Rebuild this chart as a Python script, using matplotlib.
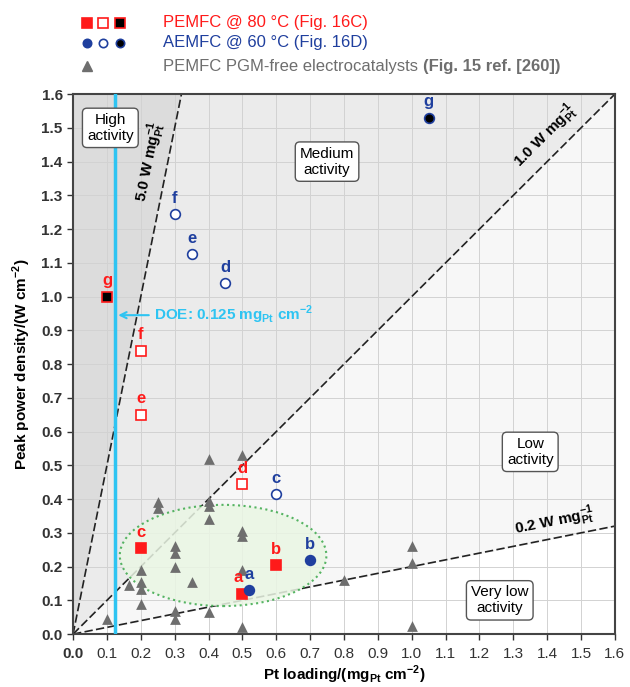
import numpy as np
import matplotlib.pyplot as plt
from matplotlib.patches import Ellipse
from matplotlib.lines import Line2D

plt.rcParams['font.family'] = ['Liberation Sans', 'DejaVu Sans']
plt.rcParams['mathtext.fontset'] = 'custom'
plt.rcParams['mathtext.rm'] = 'Liberation Sans'
plt.rcParams['mathtext.bf'] = 'Liberation Sans:bold'

# PEMFC @ 80 C (Fig. 16C)
pem_lab = ['a', 'b', 'c', 'd', 'e', 'f', 'g']
pem_x = [0.5, 0.6, 0.2, 0.5, 0.2, 0.2, 0.1]
pem_y = [0.12, 0.205, 0.255, 0.445, 0.65, 0.84, 1.0]
pem_kind = ['fill', 'fill', 'fill', 'open', 'open', 'open', 'black']

# AEMFC @ 60 C (Fig. 16D)
aem_lab = ['a', 'b', 'c', 'd', 'e', 'f', 'g']
aem_x = [0.52, 0.7, 0.6, 0.45, 0.35, 0.3, 1.05]
aem_y = [0.13, 0.22, 0.415, 1.04, 1.125, 1.245, 1.53]
aem_kind = ['fill', 'fill', 'open', 'open', 'open', 'open', 'black']

# PGM-free (Fig. 15 ref. [260])
tri_x = [0.1, 0.165, 0.2, 0.2, 0.2, 0.2, 0.25, 0.25, 0.3, 0.3, 0.3, 0.3, 0.3,
         0.35, 0.4, 0.4, 0.4, 0.4, 0.4, 0.5, 0.5, 0.5, 0.5, 0.5, 0.8,
         1.0, 1.0, 1.0]
tri_y = [0.045, 0.145, 0.19, 0.155, 0.135, 0.088, 0.39, 0.375, 0.26, 0.24, 0.2,
         0.068, 0.044, 0.155, 0.52, 0.395, 0.38, 0.34, 0.065, 0.53, 0.305,
         0.29, 0.19, 0.02, 0.16, 0.26, 0.21, 0.025]

slopes = [5.0, 1.0, 0.2]
doe = 0.125

red = '#ff1a1a'
blue = '#1f3f9e'
gray = '#6e6e6e'
cyan = '#2ec4f2'

fig = plt.figure(figsize=(6.3, 6.87), dpi=100)
ax = fig.add_axes([0.116, 0.077, 0.86, 0.786])
ax.set_xlim(0, 1.6)
ax.set_ylim(0, 1.6)

# activity regions
xx = np.linspace(0, 1.6, 400)
ax.fill_between(xx, np.minimum(slopes[0] * xx, 1.6), 1.6, color='#dcdcdc', zorder=0)
ax.fill_between(xx, np.minimum(slopes[1] * xx, 1.6), np.minimum(slopes[0] * xx, 1.6), color='#ebebeb', zorder=0)
ax.fill_between(xx, slopes[2] * xx, np.minimum(slopes[1] * xx, 1.6), color='#f7f7f7', zorder=0)

ax.set_xticks(np.arange(0, 1.61, 0.1))
ax.set_yticks(np.arange(0, 1.61, 0.1))
ax.grid(True, color='#d2d2d2', lw=0.7, zorder=1)
ax.set_axisbelow(True)

for s in slopes:
    ax.plot(xx, s * xx, ls=(0, (5, 2)), color='#222222', lw=1.2, zorder=2)

ax.axvline(doe, color=cyan, lw=2.5, zorder=3)
ax.annotate(r'DOE: 0.125 mg$_{\mathbf{Pt}}$ cm$^{\mathbf{-2}}$', xy=(doe, 0.945), xytext=(0.24, 0.945),
            color=cyan, fontsize=11, fontweight='bold', va='center', zorder=6,
            arrowprops=dict(arrowstyle='->', color=cyan, lw=1.5))

ell = Ellipse((0.443, 0.233), 0.61, 0.30, facecolor='#eaf6e4', edgecolor='#3aa84a',
              ls=':', lw=1.5, alpha=0.85, zorder=2)
ax.add_patch(ell)

ax.scatter(tri_x, tri_y, marker='^', s=60, color=gray, zorder=4, linewidths=0)

def draw(xs, ys, kinds, mk, col, ms):
    for x, y, k in zip(xs, ys, kinds):
        if k == 'fill':
            fc = col
        elif k == 'open':
            fc = 'white'
        else:
            fc = 'black'
        ax.plot(x, y, marker=mk, ms=ms, mfc=fc, mec=col, mew=1.2, ls='none', zorder=5)

draw(pem_x, pem_y, pem_kind, 's', red, 7.5)
draw(aem_x, aem_y, aem_kind, 'o', blue, 7)

for x, y, l in zip(pem_x, pem_y, pem_lab):
    dx = -3 if l == 'a' else 0
    ax.annotate(l, (x, y), xytext=(dx, 6), textcoords='offset points', ha='center', va='bottom',
                color=red, fontsize=12, fontweight='bold', zorder=6)
for x, y, l in zip(aem_x, aem_y, aem_lab):
    ax.annotate(l, (x, y), xytext=(0, 6), textcoords='offset points', ha='center', va='bottom',
                color=blue, fontsize=12, fontweight='bold', zorder=6)

box = dict(boxstyle='round,pad=0.3', fc='white', ec='#555555', lw=1)
ax.text(0.11, 1.5, 'High\nactivity', ha='center', va='center', fontsize=11, bbox=box, zorder=7)
ax.text(0.75, 1.40, 'Medium\nactivity', ha='center', va='center', fontsize=11, bbox=box, zorder=7)
ax.text(1.35, 0.54, 'Low\nactivity', ha='center', va='center', fontsize=11, bbox=box, zorder=7)
ax.text(1.26, 0.10, 'Very low\nactivity', ha='center', va='center', fontsize=11, bbox=box, zorder=7)

ax.text(0.225, 1.40, r'5.0 W mg$_{\mathbf{Pt}}^{\mathbf{-1}}$', rotation=78.6, ha='center', va='center',
        fontsize=11, fontweight='bold', zorder=6)
ax.text(1.395, 1.475, r'1.0 W mg$_{\mathbf{Pt}}^{\mathbf{-1}}$', rotation=45, ha='center', va='center',
        fontsize=11, fontweight='bold', zorder=6)
ax.text(1.42, 0.335, r'0.2 W mg$_{\mathbf{Pt}}^{\mathbf{-1}}$', rotation=11.3, ha='center', va='center',
        fontsize=11, fontweight='bold', zorder=6)

ax.set_xticklabels(['%.1f' % v for v in np.arange(0, 1.61, 0.1)], fontsize=11)
ax.set_yticklabels(['%.1f' % v for v in np.arange(0, 1.61, 0.1)], fontsize=11, fontweight='bold')
ax.get_xticklabels()[0].set_fontweight('bold')
ax.tick_params(direction='out', length=4, width=1, colors='#333333')
ax.tick_params(axis='x', pad=5)
for sp in ax.spines.values():
    sp.set_color('#444444')
    sp.set_linewidth(1.5)

ax.set_xlabel(r'Pt loading/(mg$_{\mathbf{Pt}}$ cm$^{\mathbf{-2}}$)', fontsize=11, fontweight='bold', labelpad=2)
ax.set_ylabel(r'Peak power density/(W cm$^{\mathbf{-2}}$)', fontsize=11, fontweight='bold', labelpad=6)

# legend drawn by hand at the top
lx = [87 / 630, 103 / 630, 120 / 630]
rows = [1 - 23 / 687, 1 - 43 / 687, 1 - 66 / 687]
for i, k in enumerate(['fill', 'open', 'black']):
    fc = {'fill': red, 'open': 'white', 'black': 'black'}[k]
    fig.add_artist(Line2D([lx[i]], [rows[0]], marker='s', ms=6.5, mfc=fc, mec=red, mew=1.2,
                          ls='none', transform=fig.transFigure))
    fc = {'fill': blue, 'open': 'white', 'black': 'black'}[k]
    fig.add_artist(Line2D([lx[i]], [rows[1]], marker='o', ms=6, mfc=fc, mec=blue, mew=1.2,
                          ls='none', transform=fig.transFigure))
fig.add_artist(Line2D([lx[0]], [rows[2]], marker='^', ms=6.5, color=gray, ls='none',
                      transform=fig.transFigure))
tx = 163 / 630
fig.text(tx, rows[0], 'PEMFC @ 80 °C (Fig. 16C)', color=red, fontsize=12, va='center')
fig.text(tx, rows[1], 'AEMFC @ 60 °C (Fig. 16D)', color=blue, fontsize=12, va='center')
t = fig.text(tx, rows[2], 'PEMFC PGM-free electrocatalysts ', color=gray, fontsize=12, va='center')
fig.canvas.draw()
bb = t.get_window_extent()
fig.text(bb.x1 / fig.bbox.width, rows[2], '(Fig. 15 ref. [260])', color=gray, fontsize=12,
         fontweight='bold', va='center')

fig.savefig('out.png', dpi=100)
